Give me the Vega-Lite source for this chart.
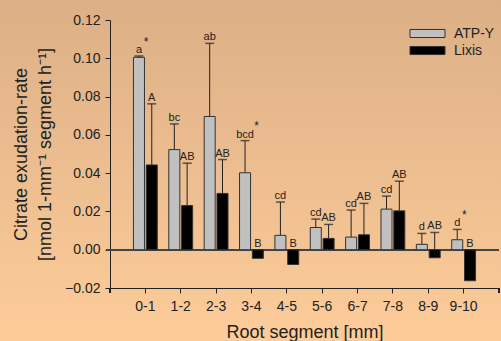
{
  "$schema": "https://vega.github.io/schema/vega-lite/v6.json",
  "width": 501,
  "height": 341,
  "autosize": "none",
  "padding": 0,
  "background": "#F5C692",
  "config": {
    "font": "Liberation Sans",
    "view": {
      "stroke": null,
      "fill": {"gradient": "linear", "x1": 0, "y1": 0, "x2": 0, "y2": 1, "stops": [{"offset": 0, "color": "#DCAF86"}, {"offset": 1, "color": "#FDCC99"}]}
    },
    "axis": {"grid": false, "domain": true, "domainColor": "#222", "tickColor": "#222", "tickSize": 5, "labelColor": "#222", "titleColor": "#222", "labelFontSize": 14, "titleFontSize": 18, "titleFontWeight": "normal"}
  },
  "data": {"values": [
    {"seg": "0-1", "series": "ATP-Y", "value": 0.1005, "hi": 0.1012, "label": "a", "star": "*"},
    {"seg": "0-1", "series": "Lixis", "value": 0.0443, "hi": 0.0762, "label": "A", "star": ""},
    {"seg": "1-2", "series": "ATP-Y", "value": 0.0523, "hi": 0.0657, "label": "bc", "star": ""},
    {"seg": "1-2", "series": "Lixis", "value": 0.0231, "hi": 0.0452, "label": "AB", "star": ""},
    {"seg": "2-3", "series": "ATP-Y", "value": 0.0696, "hi": 0.1078, "label": "ab", "star": ""},
    {"seg": "2-3", "series": "Lixis", "value": 0.0294, "hi": 0.0471, "label": "AB", "star": ""},
    {"seg": "3-4", "series": "ATP-Y", "value": 0.0402, "hi": 0.0570, "label": "bcd", "star": "*"},
    {"seg": "3-4", "series": "Lixis", "value": -0.0045, "hi": null, "label": "B", "star": ""},
    {"seg": "4-5", "series": "ATP-Y", "value": 0.0075, "hi": 0.0249, "label": "cd", "star": ""},
    {"seg": "4-5", "series": "Lixis", "value": -0.0077, "hi": null, "label": "B", "star": ""},
    {"seg": "5-6", "series": "ATP-Y", "value": 0.0116, "hi": 0.0160, "label": "cd", "star": ""},
    {"seg": "5-6", "series": "Lixis", "value": 0.0059, "hi": 0.0132, "label": "AB", "star": ""},
    {"seg": "6-7", "series": "ATP-Y", "value": 0.0066, "hi": 0.0207, "label": "cd", "star": ""},
    {"seg": "6-7", "series": "Lixis", "value": 0.0078, "hi": 0.0242, "label": "AB", "star": ""},
    {"seg": "7-8", "series": "ATP-Y", "value": 0.0212, "hi": 0.0280, "label": "cd", "star": ""},
    {"seg": "7-8", "series": "Lixis", "value": 0.0203, "hi": 0.0358, "label": "AB", "star": ""},
    {"seg": "8-9", "series": "ATP-Y", "value": 0.0028, "hi": 0.0085, "label": "d", "star": ""},
    {"seg": "8-9", "series": "Lixis", "value": -0.0042, "hi": 0.0090, "label": "AB", "star": ""},
    {"seg": "9-10", "series": "ATP-Y", "value": 0.0052, "hi": 0.0106, "label": "d", "star": "*"},
    {"seg": "9-10", "series": "Lixis", "value": -0.0162, "hi": null, "label": "B", "star": ""}
  ]},
  "encoding": {
    "x": {
      "field": "seg", "type": "nominal",
      "scale": {"domain": ["0-1", "1-2", "2-3", "3-4", "4-5", "5-6", "6-7", "7-8", "8-9", "9-10"], "range": [110, 499], "paddingInner": 0, "paddingOuter": 0.5},
      "axis": {"orient": "bottom", "offset": -53, "labelAngle": 0, "labelPadding": 6, "title": "Root segment [mm]", "titlePadding": 10}
    },
    "y": {
      "type": "quantitative",
      "scale": {"domain": [-0.02, 0.12], "range": [288, 20], "nice": false, "zero": false},
      "axis": {"orient": "left", "offset": -110, "values": [-0.02, 0, 0.02, 0.04, 0.06, 0.08, 0.1, 0.12], "format": ".2f", "labelPadding": 5, "title": ["Citrate exudation-rate", "[nmol 1-mm⁻¹ segment h⁻¹]"], "titlePadding": 10, "titleLineHeight": 24}
    }
  },
  "layer": [
    {
      "mark": {"type": "rule", "color": "#444", "strokeWidth": 1},
      "encoding": {
        "x": {"datum": "0-1", "bandPosition": -0.6},
        "x2": {"datum": "9-10", "bandPosition": 1.5},
        "y": {"datum": 0}
      }
    },
    {
      "mark": {"type": "rule", "color": "#222", "strokeWidth": 1},
      "encoding": {
        "x": {"datum": "0-1", "bandPosition": -0.5},
        "y": {"datum": -0.02},
        "y2": {"datum": -0.0226}
      }
    },
    {
      "mark": {"type": "rule", "color": "#222", "strokeWidth": 1},
      "encoding": {
        "x": {"datum": "9-10", "bandPosition": 1.5},
        "y": {"datum": -0.02},
        "y2": {"datum": -0.0226}
      }
    },
    {
      "transform": [{"filter": "datum.hi != null"}],
      "mark": {"type": "rule", "color": "#222", "strokeWidth": 1},
      "encoding": {
        "xOffset": {"field": "series", "scale": {"paddingInner": 0.14, "paddingOuter": 0.45}},
        "y": {"field": "value"},
        "y2": {"field": "hi"}
      }
    },
    {
      "mark": {"type": "bar", "stroke": "#333", "strokeWidth": 1},
      "encoding": {
        "xOffset": {"field": "series", "scale": {"paddingInner": 0.14, "paddingOuter": 0.45}},
        "y": {"field": "value"},
        "y2": {"datum": 0},
        "color": {
          "field": "series", "type": "nominal",
          "scale": {"domain": ["ATP-Y", "Lixis"], "range": ["#C0C0C0", "#000000"]},
          "legend": {
            "title": null, "orient": "none", "legendX": 418, "legendY": 24,
            "symbolType": "M-2,-0.46H2V0.46H-2Z", "symbolSize": 306,
            "symbolStrokeColor": "#333", "symbolStrokeWidth": 1,
            "labelFontSize": 14, "labelColor": "#222", "labelOffset": 17, "rowPadding": 0
          }
        }
      }
    },
    {
      "transform": [{"filter": "datum.hi != null"}],
      "mark": {"type": "tick", "color": "#222", "size": 9, "thickness": 1.5},
      "encoding": {
        "xOffset": {"field": "series", "scale": {"paddingInner": 0.14, "paddingOuter": 0.45}},
        "y": {"field": "hi"}
      }
    },
    {
      "transform": [{"filter": "datum.hi != null"}],
      "mark": {"type": "text", "fontSize": 11, "color": "#222", "baseline": "alphabetic", "dy": -3},
      "encoding": {
        "xOffset": {"field": "series", "scale": {"paddingInner": 0.14, "paddingOuter": 0.45}},
        "y": {"field": "hi"},
        "text": {"field": "label"}
      }
    },
    {
      "transform": [{"filter": "datum.hi == null"}],
      "mark": {"type": "text", "fontSize": 11, "color": "#222", "baseline": "alphabetic", "dy": -3},
      "encoding": {
        "xOffset": {"field": "series", "scale": {"paddingInner": 0.14, "paddingOuter": 0.45}},
        "y": {"datum": 0},
        "text": {"field": "label"}
      }
    },
    {
      "transform": [{"filter": "datum.star == '*' && length(datum.label) < 3"}],
      "mark": {"type": "text", "fontSize": 12, "color": "#222", "baseline": "alphabetic", "dx": 7, "dy": -10},
      "encoding": {
        "xOffset": {"field": "series", "scale": {"paddingInner": 0.14, "paddingOuter": 0.45}},
        "y": {"field": "hi"},
        "text": {"field": "star"}
      }
    },
    {
      "transform": [{"filter": "datum.star == '*' && length(datum.label) >= 3"}],
      "mark": {"type": "text", "fontSize": 12, "color": "#222", "baseline": "alphabetic", "dx": 11.5, "dy": -11},
      "encoding": {
        "xOffset": {"field": "series", "scale": {"paddingInner": 0.14, "paddingOuter": 0.45}},
        "y": {"field": "hi"},
        "text": {"field": "star"}
      }
    }
  ]
}
